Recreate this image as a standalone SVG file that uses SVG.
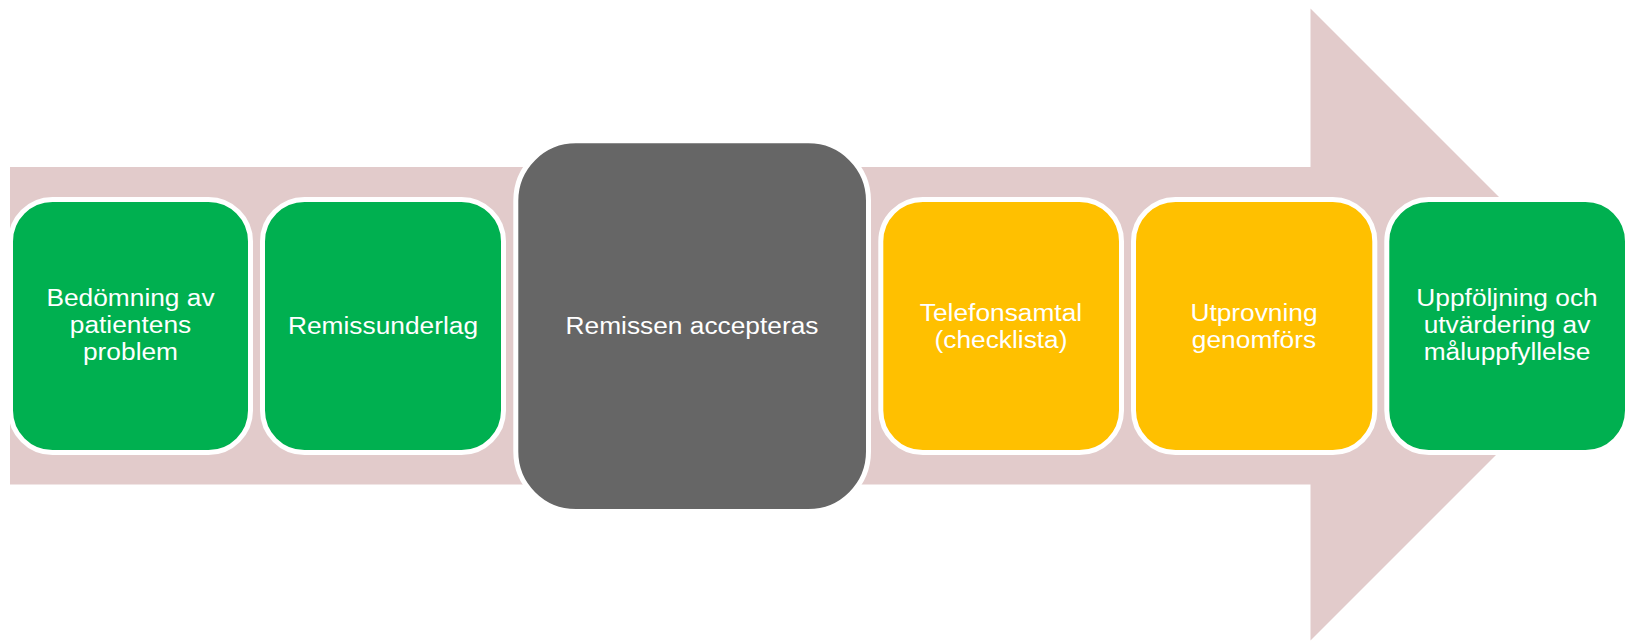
<svg xmlns="http://www.w3.org/2000/svg" width="1627" height="641" viewBox="0 0 1627 641">
  <style>
    .box { stroke: #FFFFFF; stroke-width: 5; }
    .green { fill: #00B050; }
    .yellow { fill: #FFC000; }
    .grey { fill: #666666; }
    .lbl { font-family: "Liberation Sans", Arial, sans-serif; font-size: 23.5px; fill: #FFFFFF; text-anchor: middle; }
  </style>
  <rect x="0" y="0" width="1627" height="641" fill="#FFFFFF"/>
  <g id="arrow">
    <polygon points="10,167 1310.5,167 1310.5,8.5 1626.5,324.5 1310.5,640.5 1310.5,484.5 10,484.5" fill="#E2CBCB"/>
  </g>
  <g id="node1">
    <rect class="box green" x="10.5" y="199.5" width="240" height="253" rx="42"/>
    <g transform="translate(130.5,0) scale(1.12,1)">
      <text class="lbl" x="0" y="306.4">Bedömning av</text>
      <text class="lbl" x="0" y="333.4">patientens</text>
      <text class="lbl" x="0" y="360.4">problem</text>
    </g>
  </g>
  <g id="node2">
    <rect class="box green" x="262.5" y="199.5" width="241" height="253" rx="42"/>
    <g transform="translate(383,0) scale(1.12,1)">
      <text class="lbl" x="0" y="334.4">Remissunderlag</text>
    </g>
  </g>
  <g id="node3">
    <rect class="box grey" x="515.8" y="140.8" width="352.7" height="370.7" rx="60"/>
    <g transform="translate(692,0) scale(1.12,1)">
      <text class="lbl" x="0" y="334.4">Remissen accepteras</text>
    </g>
  </g>
  <g id="node4">
    <rect class="box yellow" x="880.8" y="199.5" width="240.7" height="253" rx="42"/>
    <g transform="translate(1001,0) scale(1.12,1)">
      <text class="lbl" x="0" y="320.9">Telefonsamtal</text>
      <text class="lbl" x="0" y="347.9">(checklista)</text>
    </g>
  </g>
  <g id="node5">
    <rect class="box yellow" x="1133.5" y="199.5" width="241.3" height="253" rx="42"/>
    <g transform="translate(1254,0) scale(1.12,1)">
      <text class="lbl" x="0" y="320.9">Utprovning</text>
      <text class="lbl" x="0" y="347.9">genomförs</text>
    </g>
  </g>
  <g id="node6">
    <rect class="box green" x="1386.8" y="199.5" width="240.7" height="253" rx="42"/>
    <g transform="translate(1507,0) scale(1.12,1)">
      <text class="lbl" x="0" y="306.4">Uppföljning och</text>
      <text class="lbl" x="0" y="333.4">utvärdering av</text>
      <text class="lbl" x="0" y="360.4">måluppfyllelse</text>
    </g>
  </g>
  <g id="connectors"></g>
</svg>
